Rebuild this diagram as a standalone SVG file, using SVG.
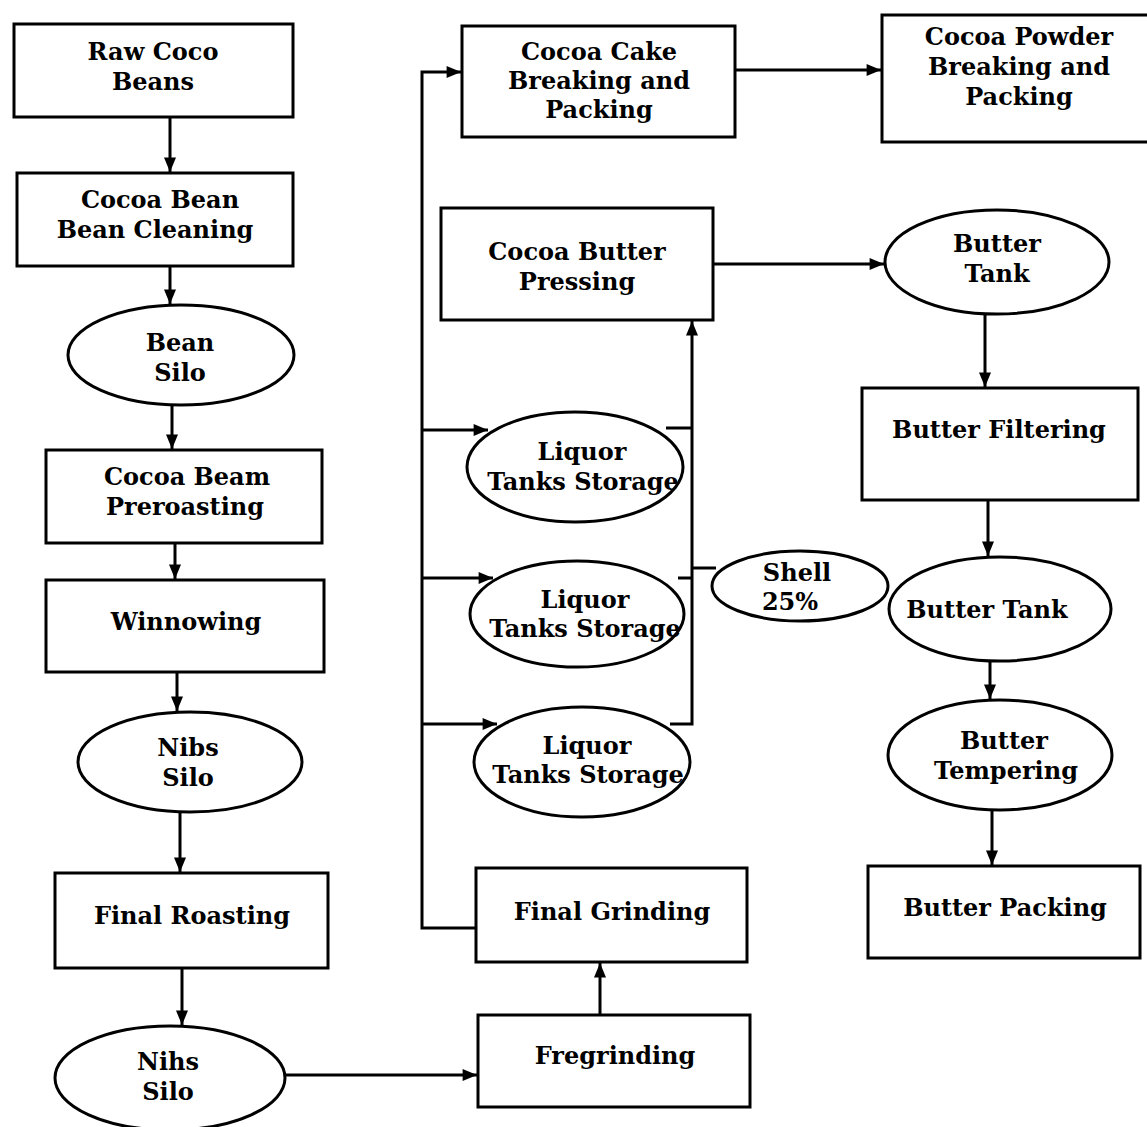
<svg xmlns="http://www.w3.org/2000/svg" width="1147" height="1127" viewBox="0 0 1147 1127">
<style>
.n{fill:#fff;stroke:#000;stroke-width:3}
.t{font-family:"DejaVu Serif","Liberation Serif",serif;font-weight:bold;font-size:24px;fill:#000;text-anchor:middle}
.c{fill:none;stroke:#000;stroke-width:3}
</style>
<defs>
<marker id="ah" viewBox="0 0 12 10" refX="12" refY="5" markerWidth="15" markerHeight="12" markerUnits="userSpaceOnUse" orient="auto"><path d="M0,0 L12,5 L0,10 z" fill="#000"/></marker>
</defs>
<rect width="1147" height="1127" fill="#fff"/>
<g id="connectors">
<path class="c" d="M170,117 V172" marker-end="url(#ah)"/>
<path class="c" d="M170,266 V304" marker-end="url(#ah)"/>
<path class="c" d="M172,405 V449" marker-end="url(#ah)"/>
<path class="c" d="M175,543 V579" marker-end="url(#ah)"/>
<path class="c" d="M177,672 V711" marker-end="url(#ah)"/>
<path class="c" d="M180,812 V872" marker-end="url(#ah)"/>
<path class="c" d="M182,968 V1025" marker-end="url(#ah)"/>
<path class="c" d="M285,1075 H477" marker-end="url(#ah)"/>
<path class="c" d="M600,1015 V963" marker-end="url(#ah)"/>
<path class="c" d="M476,928 H422 V72 H461" marker-end="url(#ah)"/>
<path class="c" d="M422,430 H488" marker-end="url(#ah)"/>
<path class="c" d="M422,578 H493" marker-end="url(#ah)"/>
<path class="c" d="M422,724 H497" marker-end="url(#ah)"/>
<path class="c" d="M670,724 H692 V321" marker-end="url(#ah)"/>
<path class="c" d="M666,428 H692"/>
<path class="c" d="M678,578 H692"/>
<path class="c" d="M692,568 H716"/>
<path class="c" d="M735,70 H881" marker-end="url(#ah)"/>
<path class="c" d="M713,264 H884" marker-end="url(#ah)"/>
<path class="c" d="M985,314 V387" marker-end="url(#ah)"/>
<path class="c" d="M988,500 V556" marker-end="url(#ah)"/>
<path class="c" d="M990,661 V699" marker-end="url(#ah)"/>
<path class="c" d="M992,810 V865" marker-end="url(#ah)"/>
</g>
<g id="raw-coco-beans"><rect class="n" x="14" y="24" width="279" height="93"/><text class="t" x="153" y="60">Raw Coco</text><text class="t" x="153" y="90">Beans</text></g>
<g id="bean-cleaning"><rect class="n" x="17" y="173" width="276" height="93"/><text class="t" x="160" y="208">Cocoa Bean</text><text class="t" x="155" y="238">Bean Cleaning</text></g>
<g id="bean-silo"><ellipse class="n" cx="181" cy="355" rx="113" ry="50"/><text class="t" x="180" y="351">Bean</text><text class="t" x="180" y="381">Silo</text></g>
<g id="preroasting"><rect class="n" x="46" y="450" width="276" height="93"/><text class="t" x="187" y="485">Cocoa Beam</text><text class="t" x="185" y="515">Preroasting</text></g>
<g id="winnowing"><rect class="n" x="46" y="580" width="278" height="92"/><text class="t" x="186" y="630">Winnowing</text></g>
<g id="nibs-silo"><ellipse class="n" cx="190" cy="762" rx="112" ry="50"/><text class="t" x="188" y="756">Nibs</text><text class="t" x="188" y="786">Silo</text></g>
<g id="final-roasting"><rect class="n" x="55" y="873" width="273" height="95"/><text class="t" x="192" y="924">Final Roasting</text></g>
<g id="nihs-silo"><ellipse class="n" cx="170" cy="1078" rx="115" ry="52"/><text class="t" x="168" y="1070">Nihs</text><text class="t" x="168" y="1100">Silo</text></g>
<g id="cocoa-cake"><rect class="n" x="462" y="26" width="273" height="111"/><text class="t" x="599" y="60">Cocoa Cake</text><text class="t" x="599" y="89">Breaking and</text><text class="t" x="599" y="118">Packing</text></g>
<g id="cocoa-powder"><rect class="n" x="882" y="15" width="270" height="127"/><text class="t" x="1019" y="45">Cocoa Powder</text><text class="t" x="1019" y="75">Breaking and</text><text class="t" x="1019" y="105">Packing</text></g>
<g id="butter-pressing"><rect class="n" x="441" y="208" width="272" height="112"/><text class="t" x="577" y="260">Cocoa Butter</text><text class="t" x="577" y="290">Pressing</text></g>
<g id="liquor-1"><ellipse class="n" cx="575" cy="467" rx="108" ry="55"/><text class="t" x="582" y="460">Liquor</text><text class="t" x="583" y="490">Tanks Storage</text></g>
<g id="liquor-2"><ellipse class="n" cx="577" cy="614" rx="107" ry="53"/><text class="t" x="585" y="608">Liquor</text><text class="t" x="585" y="637">Tanks Storage</text></g>
<g id="liquor-3"><ellipse class="n" cx="582" cy="762" rx="108" ry="55"/><text class="t" x="587" y="754">Liquor</text><text class="t" x="588" y="783">Tanks Storage</text></g>
<g id="shell"><ellipse class="n" cx="800" cy="586" rx="88" ry="35"/><text class="t" x="797" y="581">Shell</text><text class="t" x="790" y="610">25%</text></g>
<g id="final-grinding"><rect class="n" x="476" y="868" width="271" height="94"/><text class="t" x="612" y="920">Final Grinding</text></g>
<g id="fregrinding"><rect class="n" x="478" y="1015" width="272" height="92"/><text class="t" x="615" y="1064">Fregrinding</text></g>
<g id="butter-tank-1"><ellipse class="n" cx="997" cy="262" rx="112" ry="52"/><text class="t" x="997" y="252">Butter</text><text class="t" x="997" y="282">Tank</text></g>
<g id="butter-filtering"><rect class="n" x="862" y="388" width="276" height="112"/><text class="t" x="999" y="438">Butter Filtering</text></g>
<g id="butter-tank-2"><ellipse class="n" cx="1000" cy="609" rx="111" ry="52"/><text class="t" x="987" y="618">Butter Tank</text></g>
<g id="butter-tempering"><ellipse class="n" cx="1000" cy="755" rx="112" ry="55"/><text class="t" x="1004" y="749">Butter</text><text class="t" x="1006" y="779">Tempering</text></g>
<g id="butter-packing"><rect class="n" x="868" y="866" width="272" height="92"/><text class="t" x="1005" y="916">Butter Packing</text></g>
</svg>
